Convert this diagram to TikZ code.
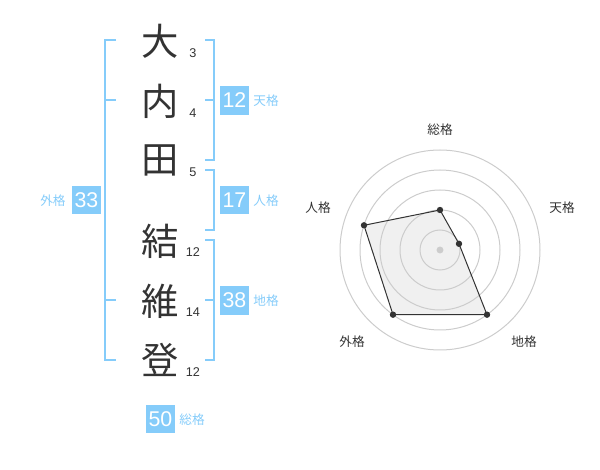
\documentclass[tikz,border=0pt]{standalone}
\usepackage{fontspec}
\setmainfont{Liberation Sans}
\newfontfamily\jp{Noto Sans CJK JP}
\definecolor{ink}{HTML}{333333}
\definecolor{sky}{HTML}{85CCFA}
\definecolor{ring}{HTML}{CCCCCC}
\definecolor{area}{HTML}{F0F0F0}
\begin{document}
\begin{tikzpicture}
        [x=0.75pt,y=-0.75pt,
        every node/.style={inner sep=0pt,align=center},
        kanji/.style={font=\jp\fontsize{28}{28}\selectfont,text=ink},
        strokes/.style={font=\fontsize{9.5}{9.5}\selectfont,text=ink},
        score/.style={fill=sky,text=white,minimum size=21.5pt,font=\fontsize{16}{16}\selectfont},
        kaku/.style={font=\jp\fontsize{9.5}{9.5}\selectfont,text=sky},
        axis/.style={font=\jp\fontsize{9.5}{9.5}\selectfont,text=ink},
        bracket/.style={draw=sky,line width=1.5pt},
        ]
        \useasboundingbox (0,0) rectangle (600,470);
        % name
        \node[kanji] (char-1) at (160, 41) {大};
        \node[kanji] (char-2) at (160, 101) {内};
        \node[kanji] (char-3) at (160, 160) {田};
        \node[kanji] (char-4) at (160, 241) {結};
        \node[kanji] (char-5) at (160, 301) {維};
        \node[kanji] (char-6) at (160, 360) {登};
        \node[strokes] (num-1) at (193, 53) {3};
        \node[strokes] (num-2) at (193, 113) {4};
        \node[strokes] (num-3) at (193, 172) {5};
        \node[strokes] (num-4) at (193, 252) {12};
        \node[strokes] (num-5) at (193, 312) {14};
        \node[strokes] (num-6) at (193, 372) {12};
        % brackets
        \draw[bracket] (116, 40) -- (105, 40) -- (105, 360) -- (116, 360);
        \draw[bracket] (105, 100) -- (116, 100) (105, 300) -- (116, 300);
        \draw[bracket] (205, 40) -- (214, 40) -- (214, 160) -- (205, 160) (205, 100) -- (214, 100);
        \draw[bracket] (205, 170) -- (214, 170) -- (214, 230) -- (205, 230);
        \draw[bracket] (205, 240) -- (214, 240) -- (214, 360) -- (205, 360) (205, 300) -- (214, 300);
        % scores
        \node[score] (ten) at (234.5, 100.5) {12};
        \node[kaku] (ten-label) at (266, 101) {天格};
        \node[score] (jin) at (234.5, 200) {17};
        \node[kaku] (jin-label) at (266, 201) {人格};
        \node[score] (chi) at (234.5, 300.5) {38};
        \node[kaku] (chi-label) at (266, 301) {地格};
        \node[score] (gai) at (86.5, 200) {33};
        \node[kaku] (gai-label) at (53, 201) {外格};
        \node[score] (sou) at (160.5, 419) {50};
        \node[kaku] (sou-label) at (192, 420) {総格};
        % radar
        \coordinate (p-sou) at (440, 210);
        \coordinate (p-ten) at (459, 243.8);
        \coordinate (p-chi) at (487, 314.7);
        \coordinate (p-gai) at (393, 314.7);
        \coordinate (p-jin) at (364, 225.3);
        \fill[area] (p-sou) -- (p-ten) -- (p-chi) -- (p-gai) -- (p-jin) -- cycle;
        \foreach \r in {15,30,45,60,75}
            \draw[ring,line width=0.75pt] (440, 250) circle[radius=\r pt];
        \fill[ring] (440, 250) circle[radius=2.6pt];
        \draw[ink,line width=0.75pt] (p-sou) -- (p-ten) -- (p-chi) -- (p-gai) -- (p-jin) -- cycle;
        \foreach \p in {sou,ten,chi,gai,jin}
            \fill[ink] (p-\p) circle[radius=2.4pt];
        \node[axis] (ax-sou) at (440, 130) {総格};
        \node[axis] (ax-ten) at (562, 208) {天格};
        \node[axis] (ax-jin) at (318, 208) {人格};
        \node[axis] (ax-gai) at (352, 342) {外格};
        \node[axis] (ax-chi) at (524, 342) {地格};
\end{tikzpicture}
\end{document}
